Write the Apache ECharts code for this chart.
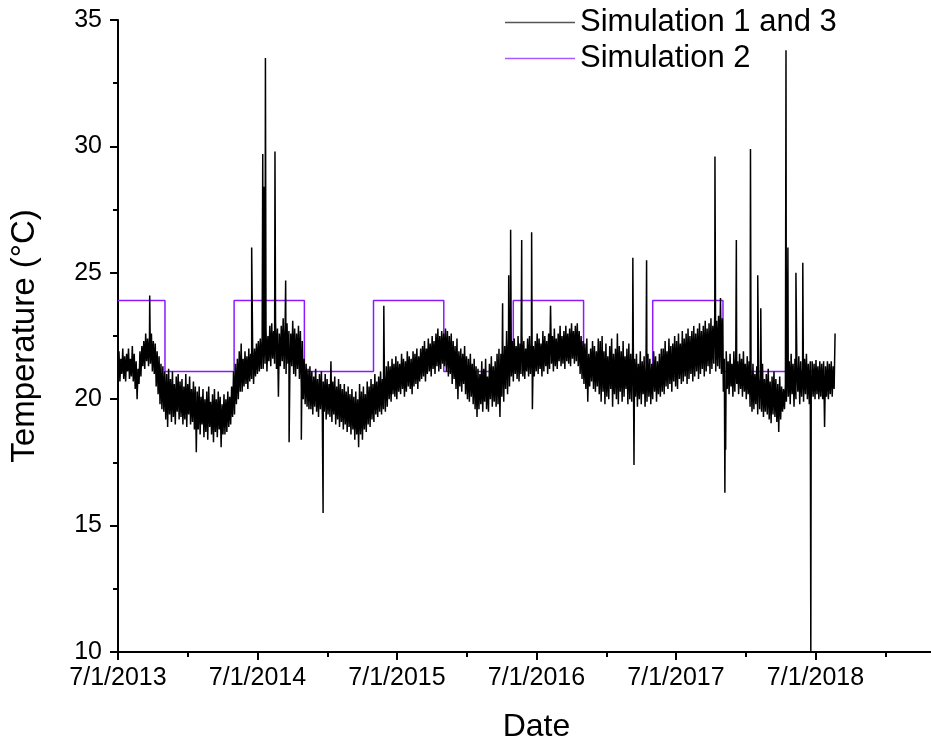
<!DOCTYPE html>
<html>
<head>
<meta charset="utf-8">
<title>Temperature</title>
<script src="https://cdn.jsdelivr.net/npm/echarts@6/dist/echarts.min.js"></script>
<style>
  html, body { margin: 0; padding: 0; background: #fff; overflow: hidden; }
  #chart { width: 931px; height: 745px; }
</style>
</head>
<body>
<div id="chart"></div>
<script>
// Simulation 1 and 3: temperature range (low / high) for every 5-day period from 7/1/2013
const simStart = '2013-07-01';
const simStepDays = 5;
const simLow = [
  20.9, 20.7, 21.0, 20.8, 20.7, 21.1, 20.8, 20.9,
  20.7, 20.4, 20.0, 20.6, 20.9,
  21.3, 21.2, 21.5, 21.3, 21.4, 21.1, 21.0,
  20.5, 20.2, 19.8, 19.6, 19.5,
  19.2, 18.9, 19.4, 19.1, 19.3, 19.0, 19.5, 19.2,
  19.3, 19.0, 19.2, 18.9, 19.4, 19.0, 19.1, 18.8,
  17.9, 18.8, 18.6, 19.0, 18.5, 18.7, 18.4, 18.9, 18.6, 18.3, 18.7, 18.5, 18.8, 18.1, 18.6,
  18.6, 18.7, 18.9, 19.0, 19.3,
  19.4, 19.8, 20.0, 20.3,
  20.3, 20.5, 20.6, 20.4, 20.7, 20.8, 20.6, 20.9, 21.0, 21.1, 21.2,
  21.2, 21.4, 21.1, 21.5, 21.3, 21.6, 21.4, 21.2, 20.1, 21.3,
  21.5, 21.2, 21.0, 21.4, 21.1, 21.3, 21.0, 20.9, 21.2, 20.8,
  20.4, 20.0, 19.8, 19.7, 19.6,
  19.6, 19.4, 19.7, 19.5, 19.3, 19.6, 19.4, 19.5, 19.2, 19.4,
  19.3, 19.1, 19.4, 19.0, 19.2, 18.9, 19.1, 18.8, 19.0, 18.7,
  18.9, 18.6, 18.8, 18.4, 18.6,
  18.1, 18.6, 18.4, 18.8, 18.7,
  19.0, 18.9, 19.2, 19.1, 19.4, 19.3, 19.5, 19.4, 19.6, 19.5,
  19.7, 20.0, 19.9, 20.2, 20.1, 20.0, 20.3, 20.2, 20.4, 20.1,
  20.3, 20.5, 20.4, 20.2, 20.5, 20.6, 20.4, 20.7,
  20.8, 20.9, 20.7, 21.0, 21.1, 20.9, 21.2, 21.0, 21.3, 21.1, 21.2, 21.4, 21.3,
  21.1, 20.9, 21.0, 20.6, 20.8, 20.4, 20.0, 20.5, 20.3, 20.6,
  20.2, 20.0, 19.9, 20.1, 19.8, 19.6, 19.3,
  19.6, 19.8, 19.5, 19.9, 19.6, 19.5, 20.0, 19.7, 19.9, 19.7,
  19.8, 19.3, 20.1, 19.9, 20.4, 20.2, 20.5,
  20.9, 20.7, 21.0, 20.8, 20.7, 21.0, 20.9, 20.8, 21.1, 20.9,
  21.0, 19.6, 20.9, 21.1, 21.0, 21.2, 20.9, 21.1, 21.3, 21.0,
  21.2, 21.4, 21.1, 21.3, 21.2, 21.5, 21.3, 21.4, 21.2, 21.5,
  21.4, 21.3, 21.6, 21.4, 21.5, 21.3, 21.0, 20.8,
  20.6, 20.4, 19.9, 20.5, 20.7, 20.4, 20.3, 20.5,
  20.2, 19.9, 20.3, 19.8, 20.1, 20.0, 20.4, 19.7, 20.2, 20.0,
  19.8, 20.3, 19.9, 20.1, 20.4, 19.8, 20.0, 19.9,
  19.9, 20.1, 19.7, 20.0, 19.8, 20.2, 19.7, 19.9, 20.1, 19.8,
  20.0, 20.3, 19.9, 20.2, 20.1,
  20.3, 20.2, 20.5, 20.4, 20.6, 20.3, 20.7, 20.5, 20.4, 20.8,
  20.6, 20.7, 20.9, 20.6, 20.8, 21.0, 20.7, 20.9, 21.1, 20.8,
  21.0, 21.2, 20.9, 21.1, 21.3, 21.0, 21.2, 21.4, 21.1, 21.3,
  21.2, 21.0,
  20.3, 20.1, 20.4, 20.2, 20.5, 20.1, 20.3, 20.6, 20.2, 20.4, 20.1, 20.3, 20.0, 20.2,
  19.7, 19.5, 19.6, 19.8, 19.4, 19.6, 19.5, 19.3, 19.5, 19.4,
  19.2, 19.05, 19.4, 19.3, 19.1, 18.7, 19.2,
  19.5, 19.6,
  19.9, 20.1, 19.8, 20.2, 19.7, 20.0, 20.3, 19.8, 20.1, 19.9, 20.2, 20.0, 19.8,
  20.0, 20.1, 20.0, 20.2, 20.0, 20.1, 20.0, 18.9, 20.1, 20.0, 20.2, 20.1, 20.4
];
const simHigh = [
  21.9, 21.6, 22.0, 21.7, 21.8, 22.0, 21.6, 22.1,
  21.8, 21.5, 21.2, 21.9, 22.1,
  22.3, 22.6, 22.4, 22.5, 22.6, 22.3, 22.2,
  21.9, 21.7, 21.4, 21.3, 21.1,
  21.0, 21.2, 20.8, 21.1, 20.6, 20.9, 21.0, 20.7,
  20.8, 20.5, 21.0, 20.6, 20.9, 20.4, 20.7, 20.5,
  20.3, 20.5, 20.1, 20.4, 20.0, 20.3, 20.5, 19.9, 20.2, 20.4, 20.0, 20.3, 20.1, 19.8, 20.2,
  20.0, 20.3, 20.1, 20.5, 21.1,
  21.4, 21.6, 21.9, 22.2,
  21.6, 21.9, 21.7, 22.0, 21.8, 22.1, 22.0, 22.2, 22.3, 22.4, 22.5,
  22.6, 22.8, 22.5, 22.9, 23.0, 22.7, 23.1, 22.8, 22.6, 22.9,
  23.2, 22.8, 23.0, 22.7, 22.6, 23.1, 22.8, 22.6, 22.9, 22.7,
  22.3, 21.6, 21.4, 21.2, 21.3,
  21.1, 20.9, 21.2, 20.8, 21.0, 21.1, 20.7, 21.0, 20.8, 20.6,
  21.5, 20.7, 20.9, 20.5, 20.8, 20.6, 20.4, 20.6, 20.3, 20.5,
  20.2, 20.4, 20.1, 20.3, 20.0,
  20.6, 20.3, 20.5, 20.2, 20.7,
  20.5, 20.8, 20.6, 21.0, 20.7, 20.9, 21.1, 20.8, 21.0, 21.3,
  21.5, 21.3, 21.6, 21.4, 21.7, 21.5, 21.4, 21.8, 21.6, 21.5,
  21.9, 21.7, 21.6, 21.9, 21.8, 22.0, 21.7, 22.0,
  22.1, 22.3, 22.0, 22.4, 22.2, 22.5, 22.3, 22.6, 22.8, 22.5, 22.7, 22.6, 22.8,
  22.7, 22.5, 22.6, 22.3, 22.1, 22.4, 21.9, 22.0, 21.8, 22.1,
  21.7, 21.6, 21.8, 21.4, 21.6, 21.3, 21.2,
  21.0, 21.5, 21.2, 21.6, 20.9, 21.4, 21.7, 21.3, 21.5, 21.8,
  22.0, 21.8, 22.3, 22.1, 22.7, 22.4, 22.2,
  22.3, 22.4, 22.1, 22.5, 22.2, 22.6, 22.3, 22.0, 22.4, 22.5,
  22.2, 22.1, 22.3, 22.6, 22.4, 22.2, 22.7, 22.5, 22.3, 22.6,
  23.7, 22.5, 22.8, 22.4, 22.6, 22.9, 22.5, 22.7, 22.9, 22.6,
  22.8, 23.0, 22.7, 22.9, 23.0, 22.7, 22.5, 22.3,
  22.2, 22.4, 21.8, 22.0, 22.3, 22.1, 21.9, 22.4,
  22.3, 22.5, 21.9, 22.2, 21.7, 22.1, 22.4, 21.8, 22.0, 22.6,
  22.1, 21.9, 22.3, 21.7, 22.0, 22.2, 21.8, 22.1,
  21.6, 21.8, 21.4, 21.9, 21.5, 21.7, 21.3, 21.8, 21.6, 21.4,
  21.9, 21.7, 21.5, 21.8, 22.0,
  22.0, 22.3, 21.9, 22.4, 22.1, 22.2, 22.5, 22.3, 22.6, 22.2,
  22.7, 22.4, 22.6, 22.8, 22.5, 22.7, 22.9, 22.6, 22.8, 23.0,
  22.7, 22.9, 23.1, 22.8, 23.0, 23.2, 22.9, 23.4, 23.1, 23.3,
  24.0, 23.2,
  21.6, 21.9, 21.5, 21.8, 21.4, 21.9, 21.7, 21.5, 21.8, 21.6, 21.9, 21.4, 21.7, 21.5,
  21.2, 21.4, 21.0, 21.3, 20.9, 21.1, 21.4, 20.8, 21.0, 21.2,
  20.7, 20.9, 21.1, 20.8, 20.6, 20.9, 20.5,
  20.4, 20.6,
  21.3, 21.5, 21.8, 21.4, 21.6, 21.3, 21.7, 21.5, 21.2, 21.6, 21.8, 21.4, 21.5,
  21.5, 21.4, 21.55, 21.3, 21.5, 21.4, 21.5, 21.3, 21.5, 21.4, 21.5, 21.3, 22.6
];

// Short excursions recorded between the regular readings
const spikeDates = [
  '2013-09-22', '2014-06-16', '2014-07-15', '2014-07-19', '2014-07-22',
  '2014-08-16', '2014-09-13', '2014-09-22', '2014-10-24', '2014-12-20',
  '2015-05-28', '2016-04-03', '2016-04-19', '2016-04-24', '2016-05-23',
  '2016-06-18', '2017-03-10', '2017-03-13', '2017-04-15', '2017-10-11',
  '2017-11-06', '2017-11-08', '2017-12-06', '2018-01-12', '2018-01-31',
  '2018-02-08', '2018-04-15', '2018-04-20', '2018-05-11', '2018-05-29',
  '2018-06-19'
];
const spikeTemps = [
  24.1, 26.0, 29.7, 28.4, 33.5,
  29.8, 24.7, 18.3, 18.4, 15.5,
  23.7, 23.8, 24.9, 26.7, 26.3,
  26.6, 25.6, 17.4, 25.5, 29.6,
  16.3, 18.0, 26.3, 29.9, 24.9,
  23.6, 33.8, 26.0, 25.0, 25.4,
  10.0
];

// Simulation 2: seasonal set-point schedule (value holds until the next date)
const sim2Dates = [
  '2013-07-01', '2013-11-01', '2014-05-01', '2014-11-01', '2015-05-01', '2015-11-01',
  '2016-05-01', '2016-11-01', '2017-05-01', '2017-11-01', '2018-07-01'
];
const sim2Temps = [23.9, 21.1, 23.9, 21.1, 23.9, 21.1, 23.9, 21.1, 23.9, 21.1, 21.1];

// X axis: tick labels every year on 7/1
const xTickYears = [2013, 2014, 2015, 2016, 2017, 2018];

// x values are years elapsed since 7/1/2013
const ORIGIN = Date.UTC(2013, 6, 1);
const YEAR_MS = 365.25 * 86400000;
function yearsSince(dateStr) {
  const p = dateStr.split('-').map(Number);
  return (Date.UTC(p[0], p[1] - 1, p[2]) - ORIGIN) / YEAR_MS;
}

// each period contributes its low, then its high half a period later
const startX = yearsSince(simStart);
const stepYears = simStepDays / 365.25;
const simPoints = [];
simLow.forEach((lo, i) => {
  const x = startX + i * stepYears;
  simPoints.push([x, lo]);
  simPoints.push([x + stepYears / 2, simHigh[i]]);
});
spikeDates.forEach((d, i) => simPoints.push([yearsSince(d), spikeTemps[i]]));
simPoints.sort((a, b) => a[0] - b[0]);

const sim2Points = sim2Dates.map((d, i) => [yearsSince(d), sim2Temps[i]]);

const FONT = 'Liberation Sans, Arial, Helvetica, sans-serif';

const chart = echarts.init(document.getElementById('chart'));
chart.setOption({
  animation: false,
  backgroundColor: '#ffffff',
  textStyle: { fontFamily: FONT },
  grid: {
    left: 118, top: 20, right: -24, bottom: 93,
    containLabel: false,
    outerBoundsMode: 'none'
  },
  legend: {
    orient: 'vertical',
    left: 505,
    top: 7,
    padding: 0,
    icon: 'rect',
    itemWidth: 70,
    itemHeight: 1.5,
    itemGap: 5,
    textStyle: { fontFamily: FONT, fontSize: 31, color: '#000' },
    data: ['Simulation 1 and 3', 'Simulation 2']
  },
  xAxis: {
    type: 'value',
    min: 0,
    max: 6,
    interval: 1,
    name: 'Date',
    nameLocation: 'middle',
    nameGap: 59,
    nameTextStyle: { fontFamily: FONT, fontSize: 32, color: '#000' },
    axisLine: { show: true, onZero: false, lineStyle: { color: '#000', width: 2 } },
    axisTick: { show: true, inside: false, length: 8, lineStyle: { color: '#000', width: 2 } },
    minorTick: { show: true, splitNumber: 2, length: 5, lineStyle: { color: '#000', width: 2 } },
    splitLine: { show: false },
    axisLabel: {
      fontFamily: FONT,
      fontSize: 25,
      color: '#000',
      margin: 14,
      formatter: function (v) {
        const idx = Math.round(v);
        if (Math.abs(v - idx) > 1e-6 || idx >= xTickYears.length) return '';
        return '7/1/' + xTickYears[idx];
      }
    }
  },
  yAxis: {
    type: 'value',
    min: 10,
    max: 35,
    interval: 5,
    name: 'Temperature (°C)',
    nameLocation: 'middle',
    nameGap: 77,
    nameTextStyle: { fontFamily: FONT, fontSize: 33, color: '#000' },
    axisLine: { show: true, lineStyle: { color: '#000', width: 2 } },
    axisTick: { show: true, inside: false, length: 8, lineStyle: { color: '#000', width: 2 } },
    minorTick: { show: true, splitNumber: 2, length: 5, lineStyle: { color: '#000', width: 2 } },
    splitLine: { show: false },
    axisLabel: { fontFamily: FONT, fontSize: 25, color: '#000', margin: 16 }
  },
  series: [
    {
      name: 'Simulation 1 and 3',
      type: 'line',
      data: simPoints,
      symbol: 'none',
      z: 3,
      color: '#555555',
      lineStyle: { color: '#000000', width: 1.5 }
    },
    {
      name: 'Simulation 2',
      type: 'line',
      step: 'end',
      data: sim2Points,
      symbol: 'none',
      z: 2,
      color: '#a45cff',
      lineStyle: { color: '#8c1aff', width: 1.5 }
    }
  ]
});
</script>
</body>
</html>
